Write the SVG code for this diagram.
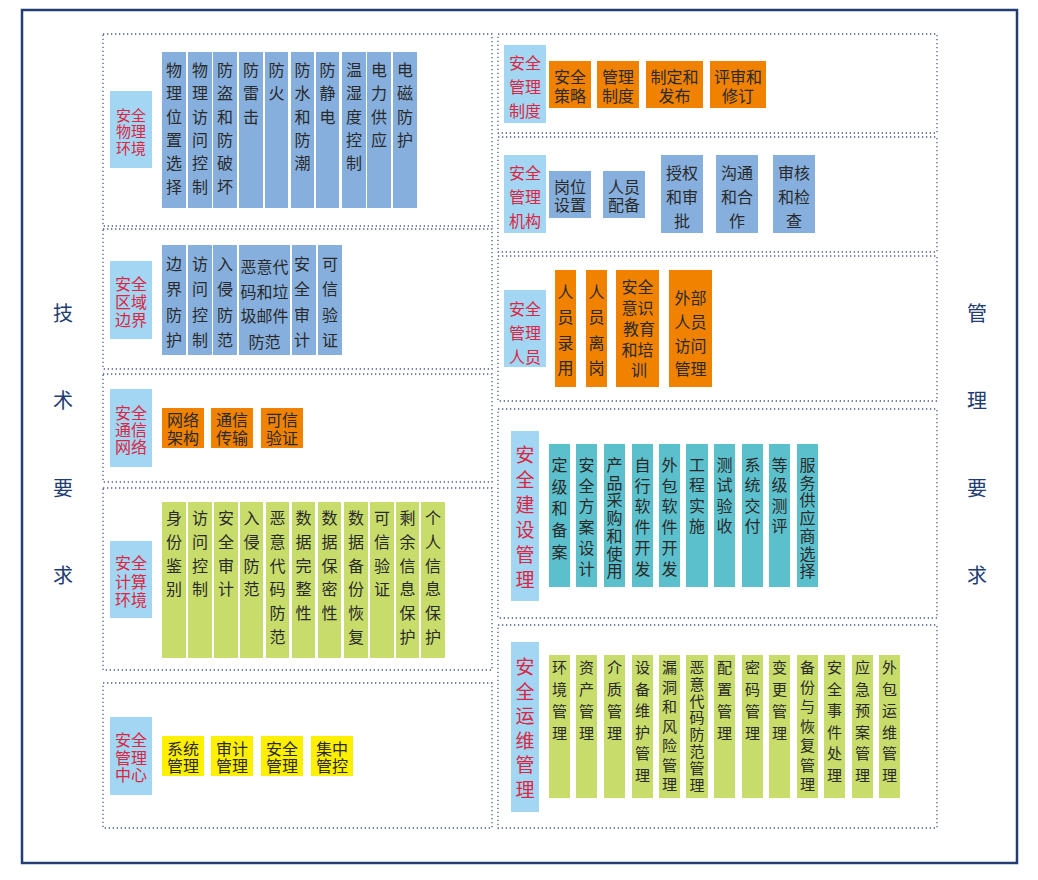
<svg xmlns="http://www.w3.org/2000/svg" width="1038" height="880" viewBox="0 0 1038 880">
<style>
text{font-family:"Noto Sans CJK SC","Noto Sans",sans-serif;text-anchor:middle}
.frame{fill:#ffffff;stroke:#233d73;stroke-width:2.5}
.dot{fill:none;stroke:#4b5a8c;stroke-width:1.3;stroke-dasharray:1.3 2.7}
.lb{fill:#a3d6f2}
.lt{fill:#d92645;font-size:15px}
.lt2{fill:#d92645;font-size:16px}
.lt3{fill:#d92645;font-size:19px}
.blue{fill:#86afdd}
.org{fill:#f08200}
.grn{fill:#c8dc6c}
.teal{fill:#5cbfcc}
.yel{fill:#fff000}
.t{fill:#2a2a2a;font-size:16px}
.ts{fill:#2a2a2a;font-size:15px}
.side{fill:#213c72;font-size:20px}
</style>
<rect class="frame" x="22" y="10" width="995" height="853"/>
<g id="side-labels">
<text class="side" x="63" y="320.6">技</text>
<text class="side" x="63" y="407.6">术</text>
<text class="side" x="63" y="495.6">要</text>
<text class="side" x="63" y="582.6">求</text>
<text class="side" x="977" y="320.6">管</text>
<text class="side" x="977" y="407.6">理</text>
<text class="side" x="977" y="495.6">要</text>
<text class="side" x="977" y="582.6">求</text>
</g>
<g id="frames">
<rect class="dot" x="103" y="34" width="389" height="192"/>
<rect class="dot" x="103" y="229" width="389" height="140"/>
<rect class="dot" x="103" y="374" width="389" height="108"/>
<rect class="dot" x="103" y="488" width="389" height="182"/>
<rect class="dot" x="103" y="683" width="389" height="145"/>
<rect class="dot" x="498" y="34" width="439" height="99"/>
<rect class="dot" x="498" y="137" width="439" height="115"/>
<rect class="dot" x="498" y="256" width="439" height="145"/>
<rect class="dot" x="498" y="409" width="439" height="209"/>
<rect class="dot" x="498" y="625" width="439" height="203"/>
</g>
<g id="phys-env">
<rect class="lb" x="110" y="91" width="42" height="77"/>
<text class="lt" x="131" y="120.5">安全<tspan x="131" dy="16.5">物理</tspan><tspan x="131" dy="16.5">环境</tspan></text>
<rect class="blue" x="162" y="52" width="24" height="156"/>
<rect class="blue" x="188" y="52" width="24" height="156"/>
<rect class="blue" x="213" y="52" width="24" height="156"/>
<rect class="blue" x="239" y="52" width="24" height="156"/>
<rect class="blue" x="265" y="52" width="23" height="156"/>
<rect class="blue" x="291" y="52" width="23" height="156"/>
<rect class="blue" x="316" y="52" width="23" height="156"/>
<rect class="blue" x="342" y="52" width="24" height="156"/>
<rect class="blue" x="367" y="52" width="24" height="156"/>
<rect class="blue" x="393" y="52" width="24" height="156"/>
<text class="t" x="174 174 174 174 174 174" y="76 99.3 122.6 145.9 169.2 192.5">物理位置选择</text>
<text class="t" x="200 200 200 200 200 200" y="76 99.3 122.6 145.9 169.2 192.5">物理访问控制</text>
<text class="t" x="225 225 225 225 225 225" y="76 99.3 122.6 145.9 169.2 192.5">防盗和防破坏</text>
<text class="t" x="251 251 251" y="76 99.3 122.6">防雷击</text>
<text class="t" x="276.5 276.5" y="76 99.3">防火</text>
<text class="t" x="302.5 302.5 302.5 302.5 302.5" y="76 99.3 122.6 145.9 169.2">防水和防潮</text>
<text class="t" x="327.5 327.5 327.5" y="76 99.3 122.6">防静电</text>
<text class="t" x="354 354 354 354 354" y="76 99.3 122.6 145.9 169.2">温湿度控制</text>
<text class="t" x="379 379 379 379" y="76 99.3 122.6 145.9">电力供应</text>
<text class="t" x="405 405 405 405" y="76 99.3 122.6 145.9">电磁防护</text>
</g>
<g id="area-boundary">
<rect class="lb" x="110" y="261" width="42" height="78"/>
<text class="lt2" x="131" y="290">安全<tspan x="131" dy="18">区域</tspan><tspan x="131" dy="18">边界</tspan></text>
<rect class="blue" x="162" y="245" width="24" height="110"/>
<rect class="blue" x="188" y="245" width="24" height="110"/>
<rect class="blue" x="213" y="245" width="24" height="110"/>
<rect class="blue" x="239" y="245" width="51" height="110"/>
<rect class="blue" x="292" y="245" width="24" height="110"/>
<rect class="blue" x="318" y="245" width="24" height="110"/>
<text class="t" x="174 174 174 174" y="270 295.3 320.6 345.9">边界防护</text>
<text class="t" x="200 200 200 200" y="270 295.3 320.6 345.9">访问控制</text>
<text class="t" x="225 225 225 225" y="270 295.3 320.6 345.9">入侵防范</text>
<text class="t" x="264.5" y="273">恶意代<tspan x="264.5" dy="24.5">码和垃</tspan><tspan x="264.5" dy="24.5">圾邮件</tspan><tspan x="264.5" dy="25.5">防范</tspan></text>
<text class="t" x="302 302 302 302" y="270 295.3 320.6 345.9">安全审计</text>
<text class="t" x="330 330 330 330" y="270 295.3 320.6 345.9">可信验证</text>
</g>
<g id="comm-network">
<rect class="lb" x="110" y="389" width="42" height="78"/>
<text class="lt2" x="131" y="418.5">安全<tspan x="131" dy="17">通信</tspan><tspan x="131" dy="17">网络</tspan></text>
<rect class="org" x="162" y="408" width="42" height="40"/>
<rect class="org" x="211" y="408" width="42" height="40"/>
<rect class="org" x="261" y="408" width="42" height="40"/>
<text class="t" x="183" y="426">网络<tspan x="183" dy="18">架构</tspan></text>
<text class="t" x="232" y="426">通信<tspan x="232" dy="18">传输</tspan></text>
<text class="t" x="282" y="426">可信<tspan x="282" dy="18">验证</tspan></text>
</g>
<g id="compute-env">
<rect class="lb" x="110" y="541" width="42" height="77"/>
<text class="lt2" x="131" y="569">安全<tspan x="131" dy="18.5">计算</tspan><tspan x="131" dy="18.5">环境</tspan></text>
<rect class="grn" x="162" y="502" width="24" height="156"/>
<rect class="grn" x="188" y="502" width="24" height="156"/>
<rect class="grn" x="214" y="502" width="24" height="156"/>
<rect class="grn" x="240" y="502" width="23" height="156"/>
<rect class="grn" x="266" y="502" width="23" height="156"/>
<rect class="grn" x="292" y="502" width="23" height="156"/>
<rect class="grn" x="318" y="502" width="23" height="156"/>
<rect class="grn" x="344" y="502" width="24" height="156"/>
<rect class="grn" x="370" y="502" width="24" height="156"/>
<rect class="grn" x="396" y="502" width="23" height="156"/>
<rect class="grn" x="421" y="502" width="24" height="156"/>
<text class="t" x="174 174 174 174" y="524 547.8 571.6 595.4">身份鉴别</text>
<text class="t" x="200 200 200 200" y="524 547.8 571.6 595.4">访问控制</text>
<text class="t" x="226 226 226 226" y="524 547.8 571.6 595.4">安全审计</text>
<text class="t" x="251.5 251.5 251.5 251.5" y="524 547.8 571.6 595.4">入侵防范</text>
<text class="t" x="277.5 277.5 277.5 277.5 277.5 277.5" y="524 547.8 571.6 595.4 619.2 643">恶意代码防范</text>
<text class="t" x="303.5 303.5 303.5 303.5 303.5" y="524 547.8 571.6 595.4 619.2">数据完整性</text>
<text class="t" x="329.5 329.5 329.5 329.5 329.5" y="524 547.8 571.6 595.4 619.2">数据保密性</text>
<text class="t" x="356 356 356 356 356 356" y="524 547.8 571.6 595.4 619.2 643">数据备份恢复</text>
<text class="t" x="382 382 382 382" y="524 547.8 571.6 595.4">可信验证</text>
<text class="t" x="407.5 407.5 407.5 407.5 407.5 407.5" y="524 547.8 571.6 595.4 619.2 643">剩余信息保护</text>
<text class="t" x="433 433 433 433 433 433" y="524 547.8 571.6 595.4 619.2 643">个人信息保护</text>
</g>
<g id="mgmt-center">
<rect class="lb" x="110" y="717" width="42" height="78"/>
<text class="lt2" x="131" y="746">安全<tspan x="131" dy="17.5">管理</tspan><tspan x="131" dy="17.5">中心</tspan></text>
<rect class="yel" x="162" y="736" width="42" height="40"/>
<rect class="yel" x="211" y="736" width="42" height="40"/>
<rect class="yel" x="261" y="736" width="42" height="40"/>
<rect class="yel" x="311" y="736" width="42" height="40"/>
<text class="t" x="183" y="755">系统<tspan x="183" dy="17">管理</tspan></text>
<text class="t" x="232" y="755">审计<tspan x="232" dy="17">管理</tspan></text>
<text class="t" x="282" y="755">安全<tspan x="282" dy="17">管理</tspan></text>
<text class="t" x="332" y="755">集中<tspan x="332" dy="17">管控</tspan></text>
</g>
<g id="mgmt-policy">
<rect class="lb" x="504" y="45" width="42" height="78"/>
<text class="lt2" x="525" y="69">安全<tspan x="525" dy="24">管理</tspan><tspan x="525" dy="24">制度</tspan></text>
<rect class="org" x="549" y="61" width="42" height="47"/>
<rect class="org" x="597" y="61" width="42" height="47"/>
<rect class="org" x="646" y="61" width="57" height="47"/>
<rect class="org" x="710" y="61" width="56" height="47"/>
<text class="t" x="570" y="83">安全<tspan x="570" dy="18.5">策略</tspan></text>
<text class="t" x="618" y="83">管理<tspan x="618" dy="18.5">制度</tspan></text>
<text class="t" x="674.5" y="83">制定和<tspan x="674.5" dy="18.5">发布</tspan></text>
<text class="t" x="738" y="83">评审和<tspan x="738" dy="18.5">修订</tspan></text>
</g>
<g id="mgmt-org">
<rect class="lb" x="504" y="155" width="42" height="78"/>
<text class="lt2" x="525" y="179">安全<tspan x="525" dy="24">管理</tspan><tspan x="525" dy="24">机构</tspan></text>
<rect class="blue" x="549" y="171" width="42" height="47"/>
<rect class="blue" x="603" y="171" width="42" height="47"/>
<rect class="blue" x="661" y="155" width="42" height="78"/>
<rect class="blue" x="716" y="155" width="42" height="78"/>
<rect class="blue" x="773" y="155" width="42" height="78"/>
<text class="t" x="570" y="193">岗位<tspan x="570" dy="17.5">设置</tspan></text>
<text class="t" x="624" y="193">人员<tspan x="624" dy="17.5">配备</tspan></text>
<text class="t" x="682" y="179">授权<tspan x="682" dy="24">和审</tspan><tspan x="682" dy="24">批</tspan></text>
<text class="t" x="737" y="179">沟通<tspan x="737" dy="24">和合</tspan><tspan x="737" dy="24">作</tspan></text>
<text class="t" x="794" y="179">审核<tspan x="794" dy="24">和检</tspan><tspan x="794" dy="24">查</tspan></text>
</g>
<g id="mgmt-staff">
<rect class="lb" x="504" y="290" width="42" height="77"/>
<text class="lt2" x="525" y="315">安全<tspan x="525" dy="23.5">管理</tspan><tspan x="525" dy="24">人员</tspan></text>
<rect class="org" x="555" y="270" width="21" height="117"/>
<rect class="org" x="586" y="270" width="21" height="117"/>
<rect class="org" x="616" y="270" width="43" height="117"/>
<rect class="org" x="669" y="270" width="43" height="117"/>
<text class="t" x="565.5 565.5 565.5 565.5" y="298 323.3 348.6 374">人员录用</text>
<text class="t" x="596.5 596.5 596.5 596.5" y="298 323.3 348.6 374">人员离岗</text>
<text class="t" x="637.5" y="293">安全<tspan x="637.5" dy="21">意识</tspan><tspan x="639" dy="21">教育</tspan><tspan x="637.5" dy="20.5">和培</tspan><tspan x="639" dy="20.5">训</tspan></text>
<text class="t" x="690.5" y="304">外部<tspan x="690.5" dy="24">人员</tspan><tspan x="690.5" dy="23.5">访问</tspan><tspan x="690.5" dy="23">管理</tspan></text>
</g>
<g id="mgmt-build">
<rect class="lb" x="511" y="431" width="28" height="170"/>
<text class="lt3" x="525 525 525 525 525 525" y="462 487 512 537 562 587">安全建设管理</text>
<rect class="teal" x="549" y="444" width="21" height="143"/>
<rect class="teal" x="576" y="444" width="21" height="143"/>
<rect class="teal" x="604" y="444" width="21" height="143"/>
<rect class="teal" x="632" y="444" width="21" height="143"/>
<rect class="teal" x="659" y="444" width="21" height="143"/>
<rect class="teal" x="686" y="444" width="22" height="143"/>
<rect class="teal" x="714" y="444" width="21" height="143"/>
<rect class="teal" x="742" y="444" width="21" height="143"/>
<rect class="teal" x="769" y="444" width="21" height="143"/>
<rect class="teal" x="797" y="444" width="21" height="143"/>
<text class="t" x="559.5 559.5 559.5 559.5 559.5" y="471 492.7 514.4 536.1 557.8">定级和备案</text>
<text class="t" x="586.5 586.5 586.5 586.5 586.5 586.5" y="471 491.7 512.4 533.1 553.8 574.5">安全方案设计</text>
<text class="t" x="614.5 614.5 614.5 614.5 614.5 614.5 614.5" y="471 488.7 506.4 524.1 541.8 559.5 577.2">产品采购和使用</text>
<text class="t" x="642.5 642.5 642.5 642.5 642.5 642.5" y="471 491.7 512.4 533.1 553.8 574.5">自行软件开发</text>
<text class="t" x="669.5 669.5 669.5 669.5 669.5 669.5" y="471 491.7 512.4 533.1 553.8 574.5">外包软件开发</text>
<text class="t" x="697 697 697 697" y="471 491.3 511.6 531.9">工程实施</text>
<text class="t" x="724.5 724.5 724.5 724.5" y="471 491.3 511.6 531.9">测试验收</text>
<text class="t" x="752.5 752.5 752.5 752.5" y="471 491.3 511.6 531.9">系统交付</text>
<text class="t" x="779.5 779.5 779.5 779.5" y="471 491.3 511.6 531.9">等级测评</text>
<text class="t" x="807.5 807.5 807.5 807.5 807.5 807.5 807.5" y="471 488.7 506.4 524.1 541.8 559.5 577.2">服务供应商选择</text>
</g>
<g id="mgmt-ops">
<rect class="lb" x="511" y="642" width="28" height="170"/>
<text class="lt3" x="525 525 525 525 525 525" y="674 698.6 723.2 747.8 772.4 797">安全运维管理</text>
<rect class="grn" x="549" y="655" width="21" height="143"/>
<rect class="grn" x="576" y="655" width="21" height="143"/>
<rect class="grn" x="604" y="655" width="21" height="143"/>
<rect class="grn" x="632" y="655" width="21" height="143"/>
<rect class="grn" x="659" y="655" width="21" height="143"/>
<rect class="grn" x="686" y="655" width="22" height="143"/>
<rect class="grn" x="714" y="655" width="21" height="143"/>
<rect class="grn" x="742" y="655" width="21" height="143"/>
<rect class="grn" x="769" y="655" width="21" height="143"/>
<rect class="grn" x="797" y="655" width="21" height="143"/>
<rect class="grn" x="824" y="655" width="21" height="143"/>
<rect class="grn" x="852" y="655" width="21" height="143"/>
<rect class="grn" x="879" y="655" width="21" height="143"/>
<text class="ts" x="559.5 559.5 559.5 559.5" y="673 695 717 739">环境管理</text>
<text class="ts" x="586.5 586.5 586.5 586.5" y="673 695 717 739">资产管理</text>
<text class="ts" x="614.5 614.5 614.5 614.5" y="673 695 717 739">介质管理</text>
<text class="ts" x="642.5 642.5 642.5 642.5 642.5 642.5" y="673 694.6 716.2 737.8 759.4 781">设备维护管理</text>
<text class="ts" x="669.5 669.5 669.5 669.5 669.5 669.5 669.5" y="673 692.5 712 731.5 751 770.5 790">漏洞和风险管理</text>
<text class="ts" x="697 697 697 697 697 697 697 697" y="673 689.8 706.6 723.4 740.2 757 773.8 790.6">恶意代码防范管理</text>
<text class="ts" x="724.5 724.5 724.5 724.5" y="673 695 717 739">配置管理</text>
<text class="ts" x="752.5 752.5 752.5 752.5" y="673 695 717 739">密码管理</text>
<text class="ts" x="779.5 779.5 779.5 779.5" y="673 695 717 739">变更管理</text>
<text class="ts" x="807.5 807.5 807.5 807.5 807.5 807.5 807.5" y="673 692.5 712 731.5 751 770.5 790">备份与恢复管理</text>
<text class="ts" x="834.5 834.5 834.5 834.5 834.5 834.5" y="673 694.6 716.2 737.8 759.4 781">安全事件处理</text>
<text class="ts" x="862.5 862.5 862.5 862.5 862.5 862.5" y="673 694.6 716.2 737.8 759.4 781">应急预案管理</text>
<text class="ts" x="889.5 889.5 889.5 889.5 889.5 889.5" y="673 694.6 716.2 737.8 759.4 781">外包运维管理</text>
</g>
</svg>
